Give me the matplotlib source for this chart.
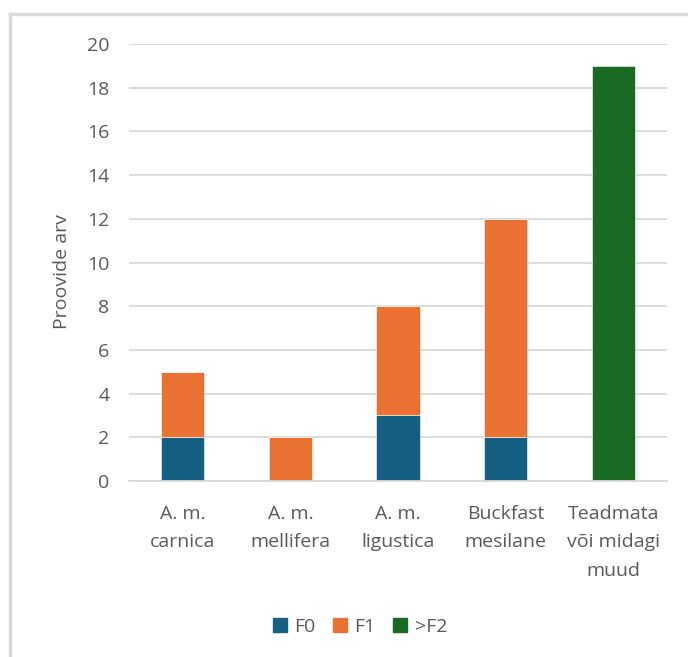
import matplotlib
matplotlib.use("Agg")
import matplotlib.pyplot as plt
from matplotlib.lines import Line2D
import numpy as np

categories = ["A. m.\ncarnica", "A. m.\nmellifera", "A. m.\nligustica",
              "Buckfast\nmesilane", "Teadmata\nvõi midagi\nmuud"]
f0 = [2, 0, 3, 2, 0]
f1 = [3, 2, 5, 10, 0]
f2plus = [0, 0, 0, 0, 19]
series_names = ["F0", "F1", ">F2"]
colors = ["#156082", "#E97132", "#196B24"]
yticks = [0, 2, 4, 6, 8, 10, 12, 14, 16, 18, 20]

plt.rcParams['font.family'] = ['Open Sans', 'DejaVu Sans']
text_color = "#595959"
grid_color = "#D9D9D9"
fs = 14

fig = plt.figure(figsize=(6.88, 6.57), dpi=100)
ax = fig.add_axes([129/688, 1 - 481/657, 538/688, 437/657])

x = np.arange(len(categories))
bottom = np.zeros(len(categories))
for vals, name, c in zip([f0, f1, f2plus], series_names, colors):
    vals = np.array(vals, dtype=float)
    ax.bar(x, vals, width=0.4, bottom=bottom, color=c, label=name,
           edgecolor="white", linewidth=0.4, zorder=3)
    bottom += vals

ax.set_xlim(-0.5, len(categories) - 0.5)
ax.set_ylim(0, 20)
ax.set_yticks(yticks)
ax.set_xticks(x)
ax.set_xticklabels(categories, fontsize=fs, color=text_color, linespacing=1.75)
ax.tick_params(axis='y', labelsize=fs, labelcolor=text_color, length=0, pad=14)
ax.tick_params(axis='x', length=0, pad=17)
ax.yaxis.grid(True, color=grid_color, linewidth=1.3, zorder=0)
for s in ["top", "right", "left"]:
    ax.spines[s].set_visible(False)
ax.spines["bottom"].set_color(grid_color)
ax.spines["bottom"].set_linewidth(1.3)
ax.spines["bottom"].set_zorder(4)

fig.text(62/688, 1 - 272/657, "Proovide arv", rotation=90, ha="center", va="center",
         fontsize=fs, color=text_color)

handles = [plt.Rectangle((0, 0), 1, 1, color=c) for c in colors]
fig.legend(handles, series_names, loc="center", bbox_to_anchor=(360/688, 1 - 627/657),
           ncol=3, frameon=False, fontsize=fs, labelcolor=text_color,
           handlelength=0.7, handleheight=0.7, handletextpad=0.4, columnspacing=0.9)

# chart-area frame
fig.add_artist(Line2D([10/688, 1], [1 - 14/657, 1 - 14/657], color="#D9D9D9", linewidth=2.5,
                      transform=fig.transFigure))
fig.add_artist(Line2D([10/688, 10/688], [0, 1 - 14/657], color="#D9D9D9", linewidth=2.5,
                      transform=fig.transFigure))

fig.savefig("out.png", dpi=100, facecolor="white")
